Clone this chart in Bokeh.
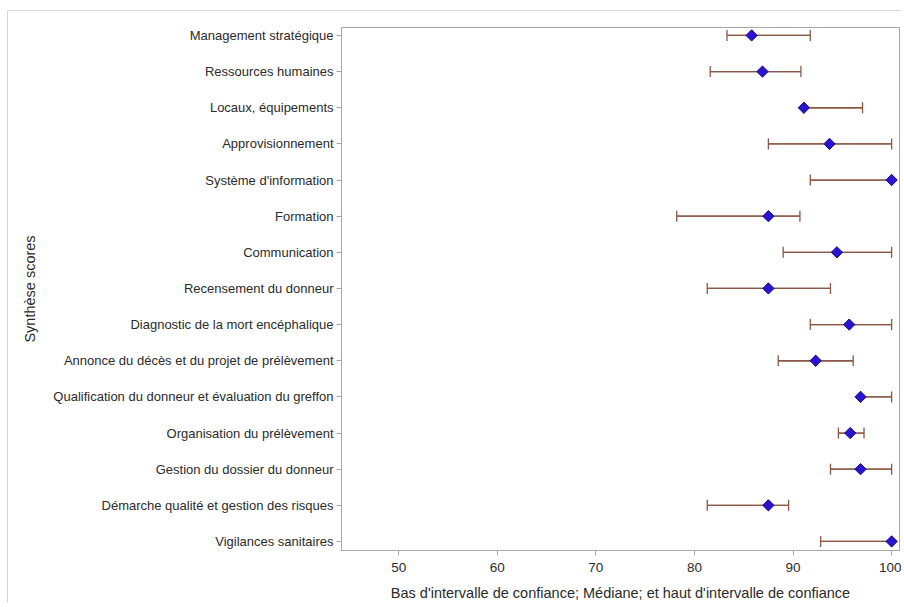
import numpy as np
from bokeh.plotting import figure
from bokeh.models import ColumnDataSource, Range1d, FixedTicker, Whisker, TeeHead
from bokeh.embed import file_html
from bokeh.resources import INLINE

categories = [
    "Management stratégique",
    "Ressources humaines",
    "Locaux, équipements",
    "Approvisionnement",
    "Système d'information",
    "Formation",
    "Communication",
    "Recensement du donneur",
    "Diagnostic de la mort encéphalique",
    "Annonce du décès et du projet de prélèvement",
    "Qualification du donneur et évaluation du greffon",
    "Organisation du prélèvement",
    "Gestion du dossier du donneur",
    "Démarche qualité et gestion des risques",
    "Vigilances sanitaires",
]
low = [83.3, 81.6, 91.1, 87.5, 91.75, 78.2, 89.0, 81.3, 91.75, 88.5, 96.85, 94.6, 93.8, 81.3, 92.8]
median = [85.8, 86.9, 91.1, 93.7, 100.0, 87.5, 94.45, 87.5, 95.7, 92.3, 96.85, 95.8, 96.85, 87.5, 100.0]
high = [91.75, 90.8, 97.05, 100.0, 100.0, 90.7, 100.0, 93.8, 100.0, 96.1, 100.0, 97.2, 100.0, 89.55, 100.0]
x_ticks = [50, 60, 70, 80, 90, 100]

pos = list(range(len(categories)))
src = ColumnDataSource(dict(y=pos, low=low, med=median, high=high))

FONT = "Liberation Sans"
TXT = "#2b2b2b"
GRAY = "#a8a8a8"

p = figure(width=894, height=592, output_backend="svg", toolbar_location=None,
           x_range=Range1d(44.2, 100.8), y_range=Range1d(14.25, -0.22),
           min_border_left=333, min_border_right=3, min_border_top=16, min_border_bottom=50)
p.styles = {"border-top": "1px solid #d4d4d4", "border-left": "1px solid #d4d4d4",
            "margin-left": "7px", "margin-top": "10px"}

p.xgrid.visible = False
p.ygrid.visible = False
p.outline_line_color = GRAY
p.outline_line_width = 1

p.yaxis.ticker = FixedTicker(ticks=pos)
p.yaxis.major_label_overrides = {i: c for i, c in zip(pos, categories)}
p.yaxis.minor_tick_line_color = None
p.xaxis.ticker = FixedTicker(ticks=x_ticks)
p.xaxis.minor_tick_line_color = None

for ax in (p.xaxis[0], p.yaxis[0]):
    ax.axis_line_color = GRAY
    ax.major_tick_line_color = GRAY
    ax.major_tick_out = 5
    ax.major_tick_in = 0
    ax.major_label_text_font = FONT
    ax.major_label_text_font_size = "13px"
    ax.major_label_text_color = TXT
    ax.axis_label_text_font = FONT
    ax.axis_label_text_font_size = "14.5px"
    ax.axis_label_text_font_style = "normal"
    ax.axis_label_text_color = TXT

p.xaxis.major_label_text_font_size = "13.5px"
p.xaxis.major_label_standoff = 7
p.xaxis.axis_label = "Bas d'intervalle de confiance; Médiane; et haut d'intervalle de confiance"
p.xaxis.axis_label_standoff = 10
p.yaxis.major_label_standoff = 3
p.yaxis.axis_label = "Synthèse scores"
p.yaxis.axis_label_standoff = 12

BROWN = "#8a5844"
p.segment(x0="low", x1="high", y0="y", y1="y", source=src, line_color=BROWN, line_width=1.3)
w = Whisker(source=src, base="y", lower="low", upper="high", dimension="width",
            line_color=BROWN, line_width=1.3,
            lower_head=TeeHead(size=11, line_color=BROWN, line_width=1.3),
            upper_head=TeeHead(size=11, line_color=BROWN, line_width=1.3))
p.add_layout(w)
p.scatter(x="med", y="y", source=src, marker="square", angle=np.pi / 4, size=8,
          fill_color="#2a14d0", line_color="#1a0a90", line_width=1)

open("out.html", "w").write(file_html(p, INLINE))
